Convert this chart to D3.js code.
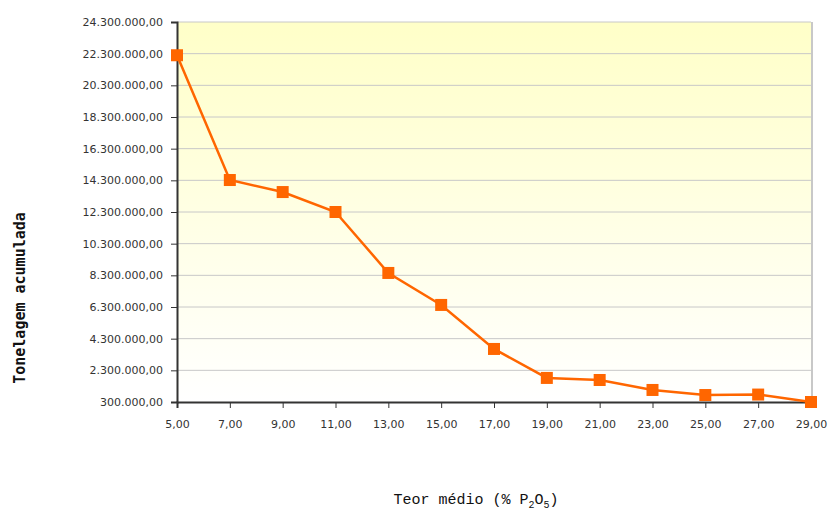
<!DOCTYPE html>
<html>
<head>
<meta charset="utf-8">
<script src="https://cdn.jsdelivr.net/npm/d3@7"></script>
<style>
  body { margin: 0; background: #fff; }
</style>
</head>
<body>
<div id="vis"></div>
<script>
// chart data
var teor = [5, 7, 9, 11, 13, 15, 17, 19, 21, 23, 25, 27, 29]
var tonelagem = [22200000, 14320000, 13560000, 12300000, 8450000, 6430000,
                 3650000, 1820000, 1690000, 1060000, 740000, 770000, 300000]
var yTicks = [300000, 2300000, 4300000, 6300000, 8300000, 10300000, 12300000,
              14300000, 16300000, 18300000, 20300000, 22300000, 24300000]

var width = 830
var height = 510
// plot area edges (window.top is reserved, so use other names)
var plotL = 177, plotR = 811, plotT = 22, plotB = 402

var ptBR = d3.formatLocale({decimal: ",", thousands: ".", grouping: [3], currency: ["R$", ""]})
var fmt = ptBR.format(",.2f")

var svg = d3.select('#vis').append('svg')
  .attr('width', width)
  .attr('height', height)

var x = d3.scaleLinear().domain([5, 29]).range([plotL, plotR])
var y = d3.scaleLinear().domain([300000, 24300000]).range([plotB, plotT])

// background gradient
var defs = svg.append('defs')
var grad = defs.append('linearGradient').attr('id', 'bg')
  .attr('x1', 0).attr('y1', 0).attr('x2', 0).attr('y2', 1)
grad.append('stop').attr('offset', '0%').attr('stop-color', '#ffffc8')
grad.append('stop').attr('offset', '100%').attr('stop-color', '#ffffff')

svg.append('rect')
  .attr('x', plotL).attr('y', plotT)
  .attr('width', plotR - plotL).attr('height', plotB - plotT)
  .attr('fill', 'url(#bg)')

// gridlines
svg.append('g').selectAll('line')
  .data(yTicks.slice(1))
  .enter().append('line')
  .attr('x1', plotL).attr('x2', plotR)
  .attr('y1', d => y(d)).attr('y2', d => y(d))
  .attr('stroke', '#c8c8c8')
  .attr('stroke-width', 1)

// right border
svg.append('line')
  .attr('x1', plotR + 1).attr('x2', plotR + 1)
  .attr('y1', plotT).attr('y2', plotB)
  .attr('stroke', '#c8c8c8').attr('stroke-width', 2)

// axes
svg.append('g')
  .attr('transform', 'translate(' + plotL + ',0)')
  .call(d3.axisLeft(y).tickValues(yTicks).tickFormat(fmt).tickSizeOuter(0).tickSize(6).tickPadding(8))
svg.append('g')
  .attr('transform', 'translate(0,' + plotB + ')')
  .call(d3.axisBottom(x).tickValues(teor).tickFormat(fmt).tickSizeOuter(0).tickSize(6).tickPadding(12))

svg.selectAll('.domain').attr('stroke', '#333').attr('stroke-width', 2)
svg.selectAll('.tick line').attr('stroke', '#333')
svg.selectAll('.tick text')
  .attr('font-family', 'DejaVu Sans, Verdana, sans-serif')
  .attr('font-size', '11px')
  .attr('fill', '#333')

// line + markers
var line = d3.line()
  .x((d, i) => x(teor[i]))
  .y(d => y(d))

svg.append('path')
  .datum(tonelagem)
  .attr('d', line)
  .attr('fill', 'none')
  .attr('stroke', '#ff6600')
  .attr('stroke-width', 2.5)

svg.append('g').selectAll('rect')
  .data(tonelagem)
  .enter().append('rect')
  .attr('x', (d, i) => x(teor[i]) - 6)
  .attr('y', d => y(d) - 6)
  .attr('width', 12).attr('height', 12)
  .attr('fill', '#ff6600')

// axis titles
svg.append('text')
  .attr('transform', 'translate(25,298) rotate(-90)')
  .attr('text-anchor', 'middle')
  .attr('font-family', 'DejaVu Sans Mono, monospace')
  .attr('font-weight', 'bold')
  .attr('font-size', '15px')
  .attr('fill', '#111')
  .text('Tonelagem acumulada')

var xt = svg.append('text')
  .attr('x', 476).attr('y', 504)
  .attr('text-anchor', 'middle')
  .attr('font-family', 'Liberation Mono, Courier New, monospace')
  .attr('font-size', '15px')
  .attr('fill', '#111')
xt.append('tspan').text('Teor médio (% P')
xt.append('tspan').attr('font-size', '10px').attr('dy', 4).text('2')
xt.append('tspan').attr('dy', -4).text('O')
xt.append('tspan').attr('font-size', '10px').attr('dy', 4).text('5')
xt.append('tspan').attr('dy', -4).text(')')
</script>
</body>
</html>
